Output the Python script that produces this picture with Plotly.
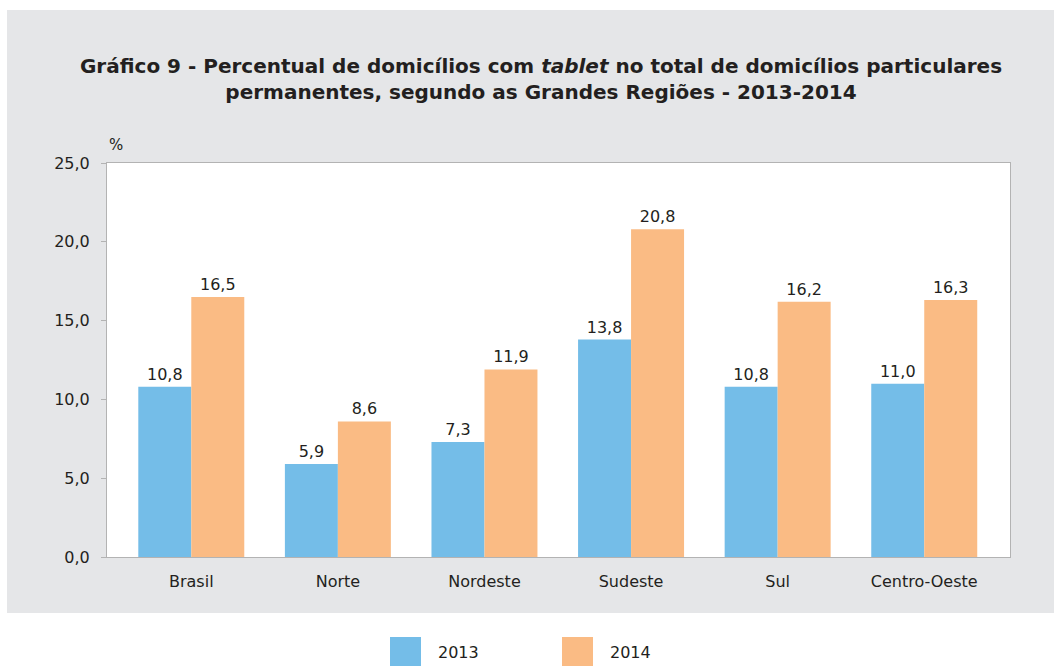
import plotly.graph_objects as go

categories = ["Brasil", "Norte", "Nordeste", "Sudeste", "Sul", "Centro-Oeste"]
series_names = ["2013", "2014"]
values_2013 = [10.8, 5.9, 7.3, 13.8, 10.8, 11.0]
values_2014 = [16.5, 8.6, 11.9, 20.8, 16.2, 16.3]
y_ticks = [0, 5, 10, 15, 20, 25]
colors = ["#74bde8", "#fabb84"]

FONT = "DejaVu Sans, Verdana, sans-serif"
TXT = "#231f20"
GRAY = "#e5e6e8"

W, H = 1054, 666
PL, PR, PT, PB = 107, 1010, 163, 557  # plot area in pixels
L, T, R, B = PL, PT, W - PR, H - PB
pw, ph = PR - PL, PB - PT


def px_x(x):
    return (x - PL) / pw


def px_y(y):
    return (PB - y) / ph


fig = go.Figure()
for name, vals, col in zip(series_names, [values_2013, values_2014], colors):
    fig.add_trace(go.Bar(
        x=categories, y=vals, name=name,
        marker=dict(color=col, line=dict(width=0)),
        texttemplate="%{y:.1f}", textposition="outside",
        textfont=dict(size=16, color=TXT, family=FONT),
        cliponaxis=False, showlegend=False,
    ))

# gray page panel = paper background; white margins around it drawn as shapes
shapes = [
    dict(type="rect", xref="paper", yref="paper", layer="below",
         x0=px_x(-20), x1=px_x(7), y0=px_y(700), y1=px_y(-20),
         fillcolor="white", line=dict(width=0)),
    dict(type="rect", xref="paper", yref="paper", layer="below",
         x0=px_x(-20), x1=px_x(1100), y0=px_y(10), y1=px_y(-20),
         fillcolor="white", line=dict(width=0)),
    dict(type="rect", xref="paper", yref="paper", layer="below",
         x0=px_x(-20), x1=px_x(1100), y0=px_y(700), y1=px_y(613),
         fillcolor="white", line=dict(width=0)),
]
annotations = [
    dict(text="%", xref="paper", yref="paper", x=px_x(116), y=px_y(145),
         xanchor="center", yanchor="middle",
         showarrow=False, font=dict(size=15, color=TXT, family=FONT)),
]
# legend
leg_x = [390, 562]
for name, col, lx in zip(series_names, colors, leg_x):
    shapes.append(dict(type="rect", xref="paper", yref="paper",
                       x0=px_x(lx), x1=px_x(lx + 31), y0=px_y(670), y1=px_y(637),
                       fillcolor=col, line=dict(width=0)))
    annotations.append(dict(text=name, xref="paper", yref="paper",
                            x=px_x(lx + 46), y=px_y(652), xanchor="left", yanchor="middle",
                            showarrow=False, font=dict(size=16, color=TXT, family=FONT)))

fig.update_layout(
    width=W, height=H,
    margin=dict(l=L, r=R, t=T, b=B, autoexpand=False),
    paper_bgcolor=GRAY, plot_bgcolor="white",
    separators=",.",
    barmode="group", bargap=0.277, bargroupgap=0,
    title=dict(
        text="Gráfico 9 - Percentual de domicílios com <i>tablet</i> no total de domicílios particulares<br>permanentes, segundo as Grandes Regiões - 2013-2014",
        x=541 / W, xanchor="center", y=1 - 73 / H, yanchor="middle",
        font=dict(size=20, color=TXT, family=FONT, weight="bold"),
    ),
    xaxis=dict(
        range=[-0.575, 5.585], showline=True, mirror=True, linecolor="#b3b3b3", linewidth=1,
        ticks="", tickfont=dict(size=16, color=TXT, family=FONT), showgrid=False,
        ticklabelstandoff=10, fixedrange=True,
    ),
    yaxis=dict(
        range=[0, 25], tickvals=y_ticks, tickformat=".1f",
        showline=True, mirror=True, linecolor="#b3b3b3", linewidth=1,
        ticks="outside", ticklen=5, tickcolor="#b3b3b3",
        tickfont=dict(size=16, color=TXT, family=FONT), showgrid=False, zeroline=False,
        ticklabelstandoff=8,
    ),
    shapes=shapes, annotations=annotations,
)

fig.write_html(
    "out.html",
    config={"displayModeBar": False},
    post_script="document.body.style.margin='0';document.body.style.overflow='hidden';",
)
